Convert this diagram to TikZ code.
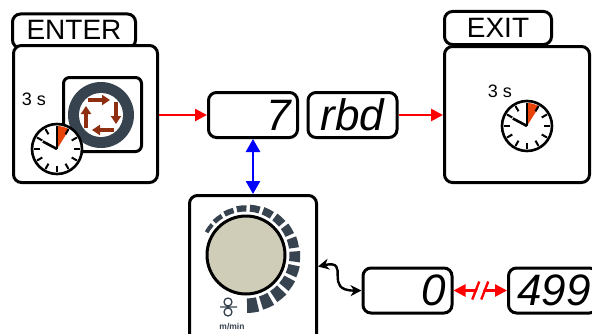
\documentclass[tikz,border=0pt]{standalone}
\usepackage{fontspec}
\setmainfont{Liberation Sans}
\newfontfamily\segfont{Liberation Sans}
\usetikzlibrary{arrows.meta}

\definecolor{dialgrey}{HTML}{37434F}
\definecolor{knobgrey}{HTML}{CFCDB8}
\definecolor{clockred}{HTML}{E8440A}
\definecolor{cyclebrown}{HTML}{8E2F12}

\tikzset{
  clock/.pic={
    \fill[white] (0,0) circle (25);
    \fill[clockred] (0,0) -- (90:23) arc[start angle=90, end angle=58, radius=23] -- cycle;
    \foreach \w in {0,30,...,330}
      \draw[line width=2pt] (\w:17) -- (\w:23);
    \draw[line width=2.6pt] (0,0) -- (90:21);
    \draw[line width=2.6pt] (0,0) -- (152:16);
    \draw[line width=2.6pt] (0,0) circle (25);
  }
}

\begin{document}
\begin{tikzpicture}[x=1pt, y=1pt,
    frame/.style={draw, line width=3pt, rounded corners=8pt, fill=white, inner sep=0pt},
    lcd/.style={frame, minimum width=89pt, minimum height=45pt},
    digits/.style={font=\segfont\itshape\fontsize{44}{44}\selectfont, inner sep=0pt},
    title/.style={font=\fontsize{28}{28}\selectfont, inner sep=0pt},
    secs/.style={font=\fontsize{18}{18}\selectfont, inner sep=0pt},
    flow/.style={red, line width=2.6pt, -{Triangle[length=12pt, width=12pt]}},
]
\clip (0,0) rectangle (592,333);

% enter
\node[frame, minimum width=123pt, minimum height=34pt] (enterTab) at (74,302) {};
\node[title] (enterText) at (74,303) {ENTER};
\node[frame, minimum width=144pt, minimum height=137pt] (enterBox) at (85.5,219) {};
\node[secs] (enterSecs) at (34,234) {3 s};
\node[frame, rounded corners=6pt, minimum width=78pt, minimum height=74pt] (cycleBox) at (102.5,218.5) {};
\begin{scope}[shift={(101,218)}]
  \fill[dialgrey] (0,0) circle (33);
  \fill[white] (0,0) circle (22);
  \foreach \r in {0,-90,-180,-270}
    \draw[cyclebrown, line width=3.6pt, -{Triangle[length=8pt, width=10pt]}, rotate=\r] (-13,15) -- (9,15);
\end{scope}
\pic at (57,184) {clock};

% displays
\node[lcd] (lcd7) at (253,218) {};
\node[digits, anchor=east] (val7) at (291,218) {7};
\node[lcd] (lcdRbd) at (352.5,218) {};
\node[digits] (valRbd) at (352.5,218) {rbd};
\node[lcd] (lcd0) at (407.5,42.5) {};
\node[digits, anchor=east] (val0) at (446,42.5) {0};
\node[lcd] (lcd499) at (553,42.5) {};
\node[digits, anchor=west] (val499) at (517,42.5) {499};

% exit
\node[frame, minimum width=107pt, minimum height=33pt] (exitTab) at (498,305) {};
\node[title] (exitText) at (498,305) {EXIT};
\node[frame, minimum width=145pt, minimum height=136pt] (exitBox) at (517,218.5) {};
\node[secs] (exitSecs) at (500,242) {3 s};
\pic at (527,207) {clock};

% knob
\node[frame, minimum width=127pt, minimum height=158pt] (knobBox) at (253,58.5) {};
\begin{scope}[shift={(246,78)}]
  \foreach \i in {0,...,14} {
    \pgfmathsetmacro\a{150-16.2*\i}
    \pgfmathsetmacro\b{\a-12}
    \pgfmathsetmacro\ro{47.5+0.75*\i}
    \fill[dialgrey] (\a:43.5) arc[start angle=\a, end angle=\b, radius=43.5]
      -- (\b:\ro) arc[start angle=\b, end angle=\a, radius=\ro] -- cycle;
  }
  \draw[line width=3pt, fill=knobgrey] (0,0) circle (39);
\end{scope}
\draw[dialgrey, line width=1.3pt] (228,31) circle (4) (228,21) circle (4) (220,26) -- (237,26);
\node[font=\bfseries\fontsize{8.5}{8.5}\selectfont, text=dialgrey, inner sep=0pt] (unit) at (232,6) {m/min};

% connectors
\draw[flow] (enterBox.east |- lcd7.west) -- (lcd7.west);
\draw[flow] (lcdRbd.east) -- (exitBox.west |- lcdRbd.east);
\draw[blue, line width=2.6pt, {Triangle[length=13pt, width=14pt]}-{Triangle[length=13pt, width=14pt]}] (lcd7.south) -- (knobBox.north);
\draw[line width=2.4pt, {Stealth[length=11pt, width=11pt]}-{Stealth[length=11pt, width=11pt]}]
  ([yshift=8pt]knobBox.east) .. controls (352,74) and (322,42) .. (lcd0.west);
\draw[red, line width=2.6pt, {Triangle[length=12pt, width=12pt]}-{Triangle[length=12pt, width=12pt]}] (lcd0.east) -- (lcd499.west);
\path (lcd0.east) -- (lcd499.west) coordinate[pos=0.5] (brk);
\fill[white] ([shift={(-6,-9)}]brk) -- ([shift={(0,-9)}]brk) -- ([shift={(6,9)}]brk) -- ([shift={(0,9)}]brk) -- cycle;
\draw[red, line width=2.4pt] ([shift={(-8,-9)}]brk) -- ([shift={(-1,9)}]brk)
  ([shift={(1,-9)}]brk) -- ([shift={(8,9)}]brk);
\end{tikzpicture}
\end{document}
